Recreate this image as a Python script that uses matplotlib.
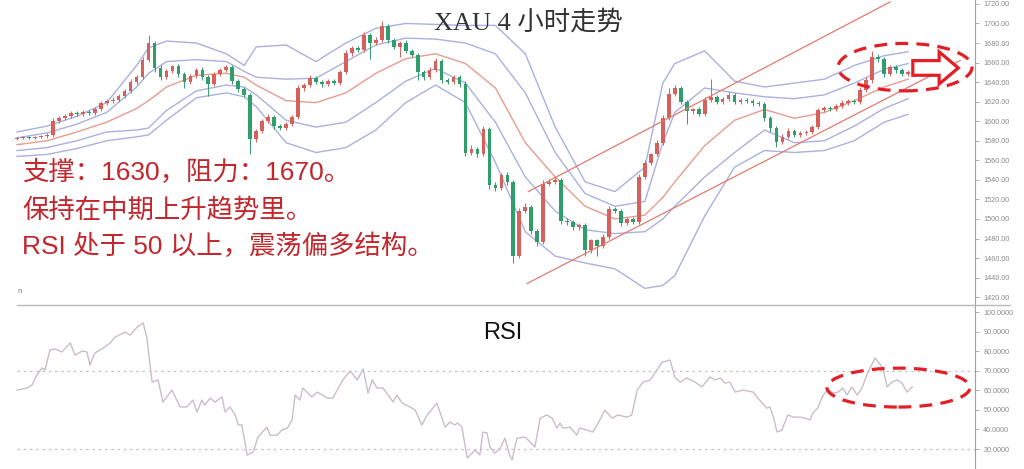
import numpy as np
import matplotlib
matplotlib.use("Agg")
import matplotlib.pyplot as plt
from matplotlib.patches import Ellipse, FancyArrow
from matplotlib.lines import Line2D

# 4h candles (close per bar)
closes = [
    1583, 1584, 1583, 1584, 1585, 1586, 1600, 1603, 1605, 1608,
    1607, 1609, 1608, 1612, 1619, 1621, 1622, 1626, 1631, 1640,
    1645, 1663, 1680, 1654, 1645, 1651, 1656, 1648, 1640, 1646,
    1652, 1645, 1638, 1648, 1652, 1655, 1641, 1633, 1627, 1582,
    1590, 1600, 1604, 1595, 1593, 1597, 1604, 1634, 1637, 1644,
    1640, 1638, 1641, 1639, 1650, 1670, 1675, 1673, 1688, 1680,
    1683, 1697, 1683, 1676, 1680, 1672, 1668, 1650, 1645, 1652,
    1662, 1642, 1640, 1645, 1638, 1568, 1572, 1566, 1592, 1535,
    1532, 1545, 1538, 1462, 1508, 1512, 1488, 1476, 1536, 1538,
    1540, 1498, 1497, 1492, 1494, 1468, 1478, 1472, 1482, 1510,
    1508, 1496, 1500, 1497, 1543, 1557, 1566, 1578, 1603, 1628,
    1634, 1620, 1610, 1612, 1607, 1622, 1625, 1620, 1623, 1627,
    1620, 1622, 1621, 1619, 1618, 1603, 1593, 1579, 1584, 1590,
    1586, 1588, 1589, 1594, 1611, 1614, 1612, 1616, 1619, 1621,
    1620, 1632, 1642, 1666, 1664, 1648, 1655, 1652, 1648, 1650,
]
first_open = 1582
up_wick = [
    1, 1, 1, 1, 1, 2, 3, 2, 2, 2,
    2, 2, 2, 3, 2, 2, 3, 2, 2, 3,
    2, 3, 8, 2, 3, 2, 2, 3, 2, 2,
    2, 3, 2, 2, 2, 3, 2, 2, 2, 2,
    2, 2, 3, 2, 2, 2, 2, 3, 2, 3,
    2, 2, 2, 2, 2, 3, 2, 2, 3, 2,
    3, 6, 2, 2, 2, 3, 2, 2, 2, 3,
    3, 2, 2, 2, 2, 3, 4, 2, 3, 2,
    3, 2, 3, 2, 3, 4, 2, 2, 4, 3,
    3, 2, 3, 2, 2, 2, 2, 2, 3, 3,
    2, 2, 2, 2, 3, 3, 2, 3, 3, 6,
    3, 2, 2, 2, 3, 3, 18, 2, 2, 3,
    2, 2, 2, 2, 2, 2, 2, 2, 3, 3,
    2, 2, 2, 2, 3, 2, 2, 2, 3, 2,
    2, 3, 3, 6, 3, 2, 3, 3, 2, 2,
]
down_wick = [
    1, 1, 1, 1, 1, 2, 2, 2, 2, 2,
    2, 2, 2, 2, 2, 2, 2, 2, 2, 2,
    2, 2, 2, 4, 3, 2, 2, 3, 6, 2,
    2, 3, 12, 2, 2, 2, 3, 3, 2, 16,
    3, 2, 2, 3, 2, 2, 2, 2, 3, 2,
    2, 3, 2, 2, 2, 2, 3, 2, 2, 16,
    2, 2, 3, 2, 10, 2, 2, 8, 3, 2,
    2, 3, 2, 2, 3, 4, 3, 3, 2, 4,
    3, 2, 3, 7, 2, 2, 3, 4, 2, 2,
    2, 3, 3, 3, 3, 6, 3, 10, 2, 2,
    2, 3, 2, 2, 2, 2, 2, 2, 2, 2,
    2, 2, 13, 3, 2, 2, 2, 2, 2, 2,
    2, 2, 2, 3, 2, 3, 4, 5, 2, 2,
    2, 2, 2, 2, 2, 2, 2, 2, 2, 2,
    2, 2, 2, 3, 3, 3, 2, 3, 2, 2,
]

# bollinger lines sampled at these bars
band_bars = [0, 5, 10, 15, 20, 22, 25, 30, 35, 38, 40, 45, 50, 55, 60, 65, 70,
             75, 80, 85, 90, 95, 100, 105, 108, 110, 115, 120, 125, 130, 135,
             140, 145, 149]
bb_upper2 = [1589, 1595, 1605, 1619, 1657, 1675, 1682, 1680, 1669, 1657, 1676,
             1678, 1661, 1680, 1695, 1700, 1699, 1698, 1698, 1669, 1594, 1538,
             1528, 1553, 1639, 1659, 1672, 1641, 1635, 1639, 1643, 1657, 1667, 1671]
bb_upper1 = [1583, 1588, 1597, 1609, 1635, 1649, 1661, 1663, 1661, 1651, 1645,
             1643, 1644, 1661, 1678, 1685, 1684, 1680, 1669, 1629, 1568, 1526,
             1513, 1518, 1578, 1609, 1634, 1629, 1625, 1623, 1627, 1639, 1653, 1659]
bb_mid = [1576, 1580, 1589, 1599, 1613, 1621, 1635, 1647, 1649, 1645, 1637,
          1621, 1619, 1629, 1649, 1664, 1669, 1659, 1634, 1578, 1543, 1513,
          1500, 1504, 1522, 1538, 1575, 1601, 1612, 1603, 1609, 1621, 1635, 1643]
bb_lower1 = [1570, 1573, 1580, 1589, 1591, 1593, 1611, 1631, 1637, 1635, 1627,
             1601, 1594, 1599, 1619, 1641, 1654, 1639, 1599, 1543, 1508, 1489,
             1485, 1487, 1500, 1513, 1543, 1568, 1591, 1578, 1580, 1595, 1613, 1623]
bb_lower2 = [1564, 1566, 1572, 1580, 1584, 1586, 1601, 1624, 1629, 1625, 1615,
             1578, 1568, 1573, 1591, 1619, 1637, 1619, 1558, 1487, 1462, 1455,
             1449, 1429, 1432, 1442, 1503, 1553, 1570, 1568, 1570, 1580, 1599, 1607]

# trend channel (bar, price)
chan_upper = [(85.5, 1528), (146.0, 1722)]
chan_lower = [(85.3, 1434), (157.7, 1662)]

# RSI
rsi_bars = [0, 1.7, 2.5, 3.3, 4.2, 4.7, 5.5, 6.4, 7.5, 8.9, 9.7, 10.9, 11.7, 12.2,
            13.0, 14.4, 15.6, 16.4, 18.1, 18.9, 20.1, 21.1, 21.7, 22.6, 23.6,
            24.4, 25.9, 27.3, 28.4, 29.4, 30.1, 30.9, 31.4, 32.3, 33.1, 34.3,
            34.8, 35.6, 36.5, 37.0, 37.6, 38.5, 39.5, 40.3, 41.8, 42.3, 43.5,
            44.3, 45.2, 46.0, 46.5, 47.3, 47.8, 49.3, 50.2, 52.0, 52.8, 54.5,
            55.7, 56.9, 57.9, 58.7, 59.4, 60.2, 61.2, 62.9, 63.5, 64.4, 65.7,
            66.6, 67.7, 68.6, 70.2, 71.6, 72.4, 73.2, 73.7, 74.4, 75.3, 76.6,
            77.4, 77.9, 78.6, 79.1, 79.9, 80.8, 81.6, 82.4, 82.8, 83.6, 85.0,
            86.6, 87.5, 88.6, 89.5, 90.3, 90.8, 91.3, 92.5, 93.6, 94.1, 95.3,
            96.3, 97.2, 98.3, 99.5, 100.5, 102.0, 102.8, 103.7, 104.7, 105.9,
            107.0, 107.9, 109.2, 110.0, 110.9, 112.0, 113.4, 114.5, 115.9,
            116.7, 117.6, 118.4, 119.2, 120.1, 121.4, 123.1, 123.9, 125.4,
            125.9, 126.4, 127.1, 127.9, 128.9, 129.8, 130.9, 131.8, 132.6,
            133.1, 133.9, 134.8, 135.6, 136.5, 137.3, 138.1, 138.8, 139.6,
            140.5, 141.3, 142.3, 143.5, 144.8, 145.5, 146.3, 147.2, 148.0,
            148.8, 149.7]
rsi_vals = [60.1, 61.2, 62.7, 67.8, 71.4, 70.4, 80.6, 81.1, 79.6, 84.2, 78.0,
            80.1, 79.6, 72.9, 79.0, 81.6, 84.2, 87.2, 89.8, 88.2, 92.3, 94.4,
            87.2, 64.2, 65.3, 54.0, 60.1, 51.5, 51.5, 55.0, 48.9, 55.0, 52.5,
            56.0, 54.0, 56.6, 48.9, 51.5, 47.4, 42.3, 42.3, 26.9, 28.5, 36.1,
            41.2, 37.1, 37.1, 39.7, 40.7, 44.8, 57.6, 55.0, 61.2, 56.6, 59.1,
            56.0, 56.0, 65.3, 69.9, 65.3, 70.9, 58.6, 65.3, 61.2, 61.2, 54.0,
            57.6, 53.5, 51.5, 49.9, 42.3, 47.4, 53.5, 41.2, 43.8, 42.3, 43.3,
            41.2, 25.4, 29.5, 26.9, 38.7, 38.2, 31.0, 27.9, 30.4, 35.6, 26.9,
            24.4, 35.6, 36.1, 31.0, 45.8, 47.4, 45.8, 40.7, 43.3, 40.7, 41.2,
            37.1, 40.7, 39.7, 38.7, 43.3, 49.9, 45.8, 47.4, 46.3, 47.4, 60.1,
            64.2, 65.3, 70.4, 74.4, 75.5, 66.8, 64.2, 66.3, 64.2, 61.7, 66.8,
            65.3, 66.3, 63.7, 64.2, 59.1, 60.1, 59.1, 56.0, 50.9, 51.5, 47.4,
            38.7, 39.7, 47.4, 46.3, 46.3, 45.8, 44.8, 48.4, 50.9, 57.6, 60.1,
            58.6, 59.1, 61.2, 57.6, 61.7, 57.6, 61.2, 69.3, 76.5, 71.4, 61.7,
            64.2, 65.3, 63.7, 59.1, 61.7]

price_ticks = list(range(1420, 1721, 20))
rsi_ticks = list(range(30, 101, 10))

RED = "#d6605c"
GREEN = "#2f9e6b"
BAND = "#aab0e2"
MID = "#e89c8e"
CHAN = "#e07b6e"
ANN = "#e41e26"

c = np.array(closes, dtype=float)
o = np.r_[first_open, c[:-1]]
hi = np.maximum(o, c) + np.array(up_wick)
lo = np.minimum(o, c) - np.array(down_wick)
x = np.arange(len(c))
cols = np.where(c >= o, RED, GREEN)

fig = plt.figure(figsize=(10.24, 4.69), dpi=100)
ax1 = fig.add_axes([0, 164 / 469, 975 / 1024, 305 / 469])
ax2 = fig.add_axes([0, 0, 975 / 1024, 164 / 469])

for ax in (ax1, ax2):
    ax.set_xlim(-2.84, 160.2)
    for s in ("left", "top", "bottom"):
        ax.spines[s].set_visible(False)
    ax.spines["right"].set_color("#a0a0a0")
    ax.spines["right"].set_linewidth(0.8)
    ax.set_xticks([])
    ax.yaxis.tick_right()
    ax.tick_params(axis="y", length=3, width=0.6, color="#a0a0a0",
                   labelsize=5.2, labelcolor="#8a8a8a", pad=3)

# price panel
ax1.set_ylim(1412, 1724)
ax1.set_yticks(price_ticks)
ax1.set_yticklabels(["%.2f" % v for v in price_ticks], family="Liberation Sans")

for band, colr in ((bb_upper2, BAND), (bb_upper1, BAND), (bb_lower1, BAND),
                   (bb_lower2, BAND), (bb_mid, MID)):
    ax1.plot(band_bars, band, color=colr, lw=1.0, zorder=1)

ax1.vlines(x, lo, hi, colors=cols, lw=0.7, zorder=2)
ax1.bar(x, np.maximum(np.abs(c - o), 0.8), bottom=np.minimum(o, c), width=0.62,
        color=cols, linewidth=0, zorder=3)

for seg in (chan_upper, chan_lower):
    ax1.plot([seg[0][0], seg[1][0]], [seg[0][1], seg[1][1]], color=CHAN, lw=0.9, zorder=4)

ax1.add_patch(Ellipse((148.5, 1655.3), 22.4, 48.5, fill=False, ec=ANN, lw=2.3,
                      ls=(0, (4, 2.6)), zorder=5))
ax1.add_patch(FancyArrow(149.8, 1654.5, 7.6, 0, width=15, head_width=33, head_length=3.2,
                         length_includes_head=True, fc="white", ec=ANN, lw=2.3, zorder=6))

fig.text(528 / 1024, 1 - 22 / 469, "XAU 4 小时走势", ha="center", va="center",
         fontsize=19, color="#333333", family=["Liberation Serif", "Noto Sans CJK SC"])
fig.text(22 / 1024, 1 - 172 / 469, "支撑：1630，阻力：1670。", ha="left", va="center",
         fontsize=19, color="#c1272d", family=["Liberation Sans", "Noto Sans CJK SC"])
fig.text(22 / 1024, 1 - 210 / 469, "保持在中期上升趋势里。", ha="left", va="center",
         fontsize=19, color="#c1272d", family=["Liberation Sans", "Noto Sans CJK SC"])
fig.text(22 / 1024, 1 - 246 / 469, "RSI 处于 50 以上，震荡偏多结构。", ha="left", va="center",
         fontsize=19, color="#c1272d", family=["Liberation Sans", "Noto Sans CJK SC"])
fig.text(20 / 1024, 1 - 291 / 469, "n", ha="center", va="center", fontsize=5, color="#777777")

# RSI panel
ax2.set_ylim(19.8, 103.6)
ax2.set_yticks(rsi_ticks)
ax2.set_yticklabels(["%.4f" % v for v in rsi_ticks], family="Liberation Sans")
for lvl in (70, 30):
    ax2.plot([0, 160.2], [lvl, lvl], color="#c4c4c4", lw=0.9, ls=(0, (2, 3)), zorder=1)
ax2.plot(rsi_bars, rsi_vals, color="#cbbccb", lw=1.0, zorder=2)
ax2.add_patch(Ellipse((147.4, 61.4), 23.9, 19.9, fill=False, ec=ANN, lw=2.3,
                      ls=(0, (4, 2.6)), zorder=5, clip_on=False))
fig.text(503 / 1024, 1 - 333 / 469, "RSI", ha="center", va="center", fontsize=17,
         color="#111111", family="Liberation Sans")

# panel separator
fig.add_artist(Line2D([17 / 1024, 1010 / 1024], [164 / 469, 164 / 469],
                      transform=fig.transFigure, color="#b8b8b8", lw=1.0))

fig.savefig("out.png", dpi=100)
